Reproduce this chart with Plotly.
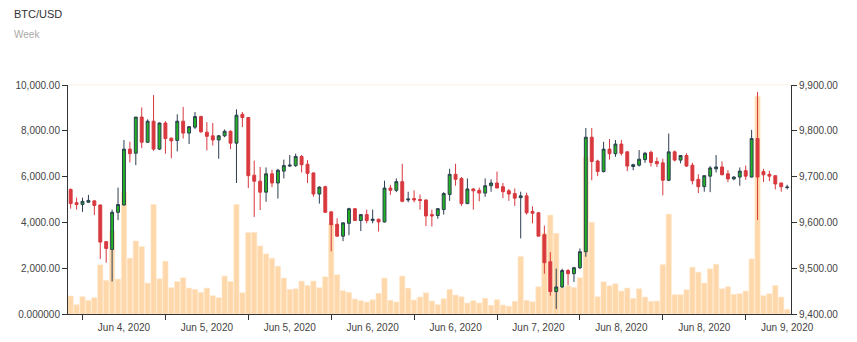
import plotly.graph_objects as go

opens = [9672,9643,9639,9644,9647,9638,9558,9541,9622,9638,9760,9751,9830,9775,9821,9760,9817,9784,9779,9821,
         9795,9808,9831,9797,9789,9780,9789,9799,9773,9836,9829,9703,9690,9666,9706,9686,9712,9723,9724,9744,
         9727,9708,9662,9678,9623,9596,9570,9598,9630,9604,9617,9604,9607,9601,9675,9670,9689,9649,9652,9650,
         9649,9617,9615,9628,9661,9705,9696,9641,9673,9670,9664,9680,9686,9678,9669,9663,9654,9658,9624,9621,
         9573,9514,9449,9459,9495,9488,9501,9536,9786,9734,9711,9760,9750,9771,9754,9722,9725,9737,9753,9733,
         9730,9692,9754,9736,9746,9725,9694,9678,9701,9717,9721,9706,9695,9699,9713,9699,9783,9711,9705,9702,
         9686,9676]
highs = [9674,9654,9654,9660,9648,9639,9559,9628,9676,9780,9776,9830,9851,9825,9878,9818,9821,9785,9836,9852,
         9810,9841,9833,9819,9817,9791,9803,9801,9847,9841,9830,9735,9721,9720,9715,9717,9737,9747,9750,9747,
         9736,9709,9679,9680,9624,9609,9600,9632,9631,9618,9628,9628,9608,9691,9682,9696,9728,9667,9670,9661,
         9650,9628,9631,9666,9717,9728,9699,9696,9675,9676,9696,9694,9711,9686,9673,9674,9667,9665,9635,9622,
         9593,9535,9499,9499,9498,9503,9543,9806,9806,9737,9776,9782,9780,9780,9756,9728,9758,9754,9757,9742,
         9739,9794,9757,9747,9751,9730,9705,9703,9723,9747,9733,9714,9701,9720,9724,9802,9885,9717,9713,9703,
         9687,9682]
lows = [9630,9628,9623,9643,9616,9520,9512,9471,9605,9637,9731,9725,9762,9774,9756,9758,9750,9740,9755,9783,
        9771,9804,9795,9757,9768,9739,9786,9760,9686,9808,9675,9612,9627,9645,9677,9652,9696,9721,9721,9709,
        9686,9656,9641,9621,9537,9569,9559,9572,9603,9581,9598,9598,9580,9600,9660,9666,9644,9644,9644,9628,
        9592,9591,9608,9617,9647,9680,9636,9640,9628,9646,9656,9667,9675,9653,9647,9636,9565,9617,9598,9570,
        9488,9440,9411,9457,9463,9470,9498,9525,9692,9701,9709,9737,9743,9746,9712,9714,9722,9730,9722,9721,
        9659,9690,9733,9729,9721,9683,9664,9667,9666,9709,9703,9688,9692,9680,9693,9698,9605,9688,9690,9672,
        9667,9672]
closes = [9641,9639,9646,9648,9637,9557,9543,9622,9639,9760,9750,9830,9775,9821,9760,9817,9783,9778,9821,9795,
          9809,9831,9798,9788,9780,9789,9799,9773,9834,9829,9702,9690,9666,9706,9686,9714,9724,9725,9744,9726,
          9707,9662,9677,9622,9595,9570,9599,9630,9604,9617,9604,9607,9601,9675,9670,9689,9646,9651,9649,9648,
          9614,9614,9630,9663,9705,9694,9641,9673,9669,9664,9680,9686,9675,9667,9662,9653,9658,9621,9620,9570,
          9512,9449,9459,9495,9488,9501,9536,9786,9733,9711,9760,9750,9771,9751,9723,9726,9738,9751,9731,9728,
          9692,9754,9736,9746,9723,9691,9678,9702,9719,9721,9704,9695,9699,9712,9701,9783,9699,9704,9701,9684,
          9678,9677]
volumes = [782,406,753,594,710,2145,1464,3623,1521,5303,2434,3188,2941,1348,4782,1536,2304,1145,1420,1579,
           1130,1072,942,1130,797,710,1652,1420,4782,927,3550,3565,2970,2623,2434,2087,1565,1072,1101,1435,
           1246,1435,1145,1623,3927,1710,1014,942,652,580,522,623,898,1565,594,522,1652,1130,609,739,
           927,565,406,667,1072,826,753,478,580,478,681,377,623,391,333,551,2507,594,536,1188,
           3521,4318,3521,1145,1232,1159,1579,6825,3999,753,1406,1232,1319,1000,1130,681,1101,739,551,565,
           2159,4361,840,840,1058,2043,1826,1348,1971,2174,1101,1188,855,884,1000,2405,9505,797,884,1246,
           739,203]

x_idx = list(range(len(opens)))
tick_marks = [2, 16, 30, 44, 58, 72, 86, 100, 114]
label_pos = [9, 23, 37, 51, 65, 79, 93, 107, 121]
tick_labels = ["Jun 4, 2020", "Jun 5, 2020", "Jun 5, 2020", "Jun 6, 2020", "Jun 6, 2020",
               "Jun 7, 2020", "Jun 8, 2020", "Jun 8, 2020", "Jun 9, 2020"]
vol_ticks = [0, 2000, 4000, 6000, 8000, 10000]
vol_tick_labels = ["0.000000", "2,000.00", "4,000.00", "6,000.00", "8,000.00", "10,000.00"]
price_ticks = [9400, 9500, 9600, 9700, 9800, 9900]
price_tick_labels = ["9,400.00", "9,500.00", "9,600.00", "9,700.00", "9,800.00", "9,900.00"]

fig = go.Figure()
fig.add_trace(go.Bar(
    x=x_idx, y=volumes, yaxis="y",
    marker=dict(color="#fed8aa", line=dict(color="#ffe6c8", width=0.6)),
    hoverinfo="skip", showlegend=False,
))
fig.add_trace(go.Candlestick(
    x=x_idx, open=opens, high=highs, low=lows, close=closes, yaxis="y2",
    increasing=dict(line=dict(color="#2d3e50", width=1), fillcolor="#21b321"),
    decreasing=dict(line=dict(color="#d8393f", width=1), fillcolor="#d8393f"),
    whiskerwidth=0, showlegend=False,
))

axis_font = dict(family="Liberation Sans, Arial, sans-serif", size=10, color="#444444")
fig.update_layout(
    width=857, height=342,
    margin=dict(l=68, r=66, t=85, b=28),
    paper_bgcolor="white", plot_bgcolor="white",
    bargap=0.12, boxgap=0.3,
    showlegend=False,
    font=axis_font,
    xaxis=dict(
        range=[-0.45, 121.65], tickvals=label_pos, ticktext=tick_labels,
        showgrid=False, zeroline=False, showline=True, linecolor="#333333", linewidth=1,
        ticks="outside", ticklen=4, tickcolor="rgba(0,0,0,0)", tickfont=axis_font, automargin=False,
        minor=dict(tickvals=tick_marks, ticks="outside", ticklen=5, tickcolor="#333333", showgrid=False),
        rangeslider=dict(visible=False),
    ),
    yaxis=dict(
        range=[0, 10000], tickvals=vol_ticks, ticktext=vol_tick_labels,
        showgrid=False, zeroline=False, showline=True, linecolor="#333333", linewidth=1,
        ticks="outside", ticklen=5, tickcolor="#333333", tickfont=axis_font, automargin=False,
    ),
    yaxis2=dict(
        range=[9400, 9900], tickvals=price_ticks, ticktext=price_tick_labels,
        overlaying="y", side="right",
        showgrid=False, zeroline=False, showline=True, linecolor="#333333", linewidth=1,
        ticks="outside", ticklen=5, tickcolor="#333333", tickfont=axis_font, automargin=False,
    ),
    shapes=[dict(type="line", xref="paper", yref="paper", x0=0, x1=1, y0=1, y1=1,
                 line=dict(color="#fcf1e4", width=1), layer="below")],
    annotations=[
        dict(text="BTC/USD", xref="paper", yref="paper", x=-0.0775, y=1.31,
             xanchor="left", yanchor="middle", showarrow=False,
             font=dict(family="Liberation Sans, Arial, sans-serif", size=11, color="#333333")),
        dict(text="Week", xref="paper", yref="paper", x=-0.0775, y=1.222,
             xanchor="left", yanchor="middle", showarrow=False,
             font=dict(family="Liberation Sans, Arial, sans-serif", size=10, color="#aaaaaa")),
    ],
)

fig.write_html("out.html")
